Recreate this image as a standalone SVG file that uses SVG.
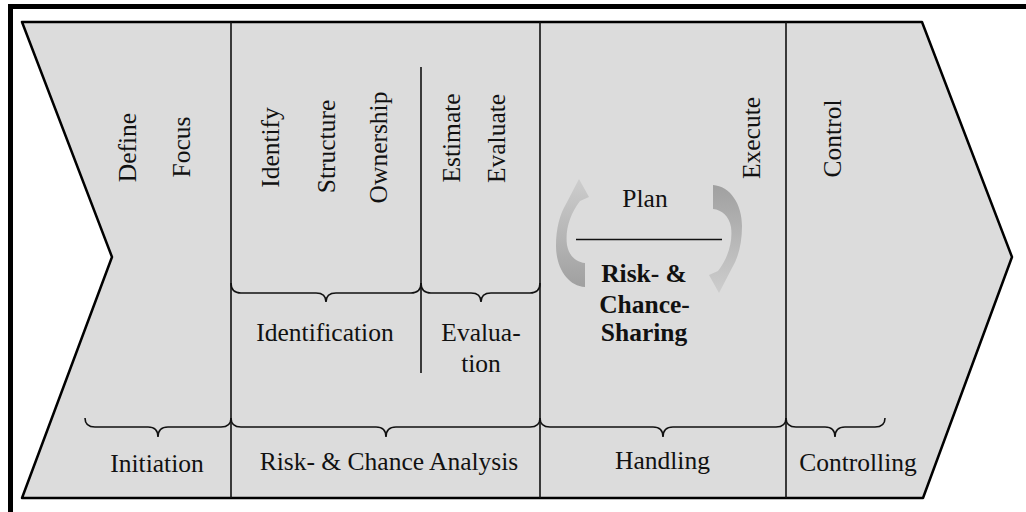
<svg xmlns="http://www.w3.org/2000/svg" width="1026" height="512" viewBox="0 0 1026 512">
<style>
  text { font-family: "Liberation Serif", "Times New Roman", serif; font-size: 25.5px; fill: #111; }
  .c { text-anchor: middle; }
  .b { font-weight: bold; }
  .div { stroke: #111; stroke-width: 1.6; fill: none; }
  .brace { stroke: #111; stroke-width: 1.6; fill: none; }
</style>
<defs>
  <linearGradient id="arrGrad" x1="0" y1="0" x2="0" y2="1">
    <stop offset="0" stop-color="#cdcdcd"/>
    <stop offset="1" stop-color="#a0a0a0"/>
  </linearGradient>
  <path id="curvedArrow" d="M585,287 C568,286 556,268 556,246 C556,228 560,214 566,204 L579,179 L589,197 L580,201 C570,214 565,230 567,245 C569,256 576,262 585,263 Z" fill="url(#arrGrad)"/>
</defs>

<rect id="frame" x="10.5" y="6.5" width="1030" height="520" fill="none" stroke="#000" stroke-width="5"/>

<g id="chevron">
  <polygon points="22,22 922,22 1012,257 923,498 22,498 112,257" fill="#dcdcdc" stroke="#000" stroke-width="2.5" stroke-linejoin="round"/>
</g>

<g id="connectors">
  <line class="div" x1="231" y1="22" x2="231" y2="498"/>
  <line class="div" x1="540" y1="22" x2="540" y2="498"/>
  <line class="div" x1="786" y1="22" x2="786" y2="498"/>
  <line class="div" x1="421" y1="67" x2="421" y2="373"/>
  <path class="brace" d="M85,418 Q85,427 95,427 L148,427 Q158,427 158,437 Q158,427 168,427 L221,427 Q231,427 231,418"/>
  <path class="brace" d="M231,418 Q231,427 241,427 L376,427 Q386,427 386,437 Q386,427 396,427 L530,427 Q540,427 540,418"/>
  <path class="brace" d="M540,418 Q540,427 550,427 L653,427 Q663,427 663,437 Q663,427 673,427 L776,427 Q786,427 786,418"/>
  <path class="brace" d="M786,418 Q786,427 796,427 L825,427 Q835,427 835,437 Q835,427 845,427 L875,427 Q885,427 885,418"/>
  <path class="brace" d="M231,283 Q231,293 241,293 L316,293 Q326,293 326,302 Q326,293 336,293 L411,293 Q421,293 421,283"/>
  <path class="brace" d="M421,283 Q421,293 431,293 L471,293 Q481,293 481,302 Q481,293 491,293 L530,293 Q540,293 540,283"/>
</g>

<g id="initiation">
  <text transform="translate(136,147.5) rotate(-90)" class="c">Define</text>
  <text transform="translate(190,147) rotate(-90)" class="c">Focus</text>
  <text x="157" y="471.5" class="c">Initiation</text>
</g>

<g id="analysis">
  <text transform="translate(279,147.5) rotate(-90)" class="c">Identify</text>
  <text transform="translate(335,146.5) rotate(-90)" class="c">Structure</text>
  <text transform="translate(387,147.5) rotate(-90)" class="c">Ownership</text>
  <text transform="translate(460,138) rotate(-90)" class="c">Estimate</text>
  <text transform="translate(505,138.5) rotate(-90)" class="c">Evaluate</text>
  <text x="325" y="341" class="c">Identification</text>
  <text x="481" y="341" class="c">Evalua-</text>
  <text x="481" y="372" class="c">tion</text>
  <text x="389" y="470" class="c">Risk- &amp; Chance Analysis</text>
</g>

<g id="handling">
  <use href="#curvedArrow"/>
  <use href="#curvedArrow" transform="rotate(180,649,236)"/>
  <text x="645" y="207" class="c">Plan</text>
  <line x1="576" y1="239.5" x2="722" y2="239.5" stroke="#111" stroke-width="1.6"/>
  <text x="644" y="282" class="c b">Risk- &amp;</text>
  <text x="644.5" y="313" class="c b">Chance-</text>
  <text x="644" y="341" class="c b">Sharing</text>
  <text transform="translate(760,138) rotate(-90)" class="c">Execute</text>
  <text x="662.5" y="469" class="c">Handling</text>
</g>

<g id="controlling">
  <text transform="translate(841,138.5) rotate(-90)" class="c">Control</text>
  <text x="858" y="470.5" class="c">Controlling</text>
</g>
</svg>
